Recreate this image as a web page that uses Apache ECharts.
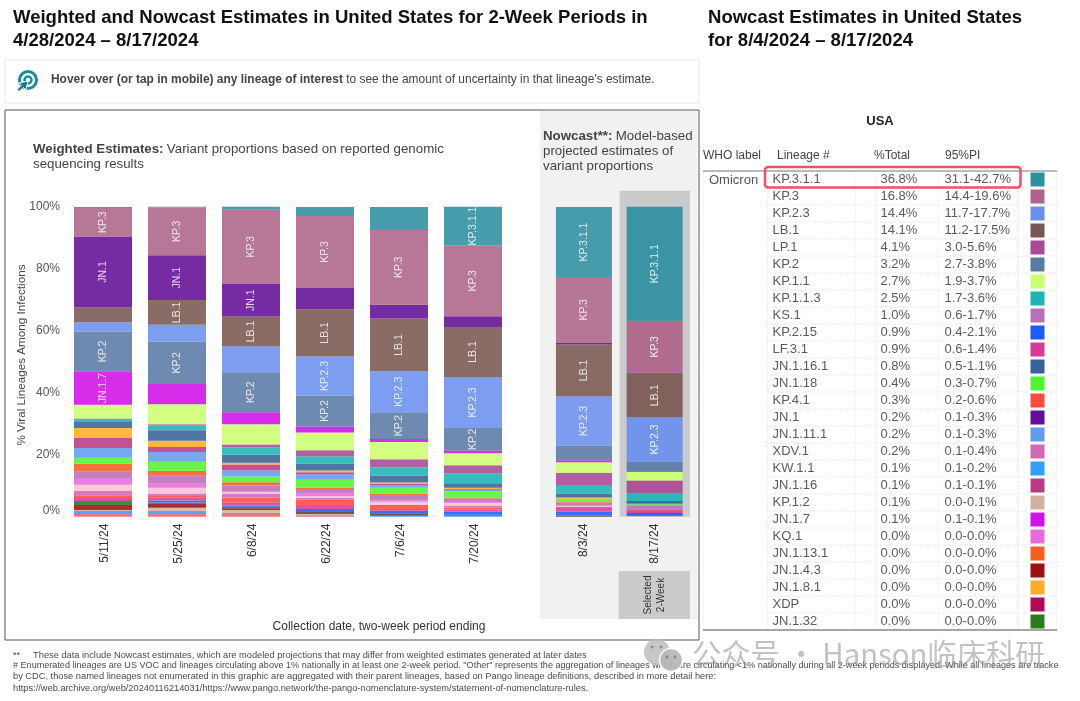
<!DOCTYPE html>
<html><head><meta charset="utf-8">
<style>html,body{margin:0;padding:0;background:#fff}#c{width:1080px;height:701px}</style>
<script src="https://cdn.jsdelivr.net/npm/echarts@6/dist/echarts.min.js"></script>
</head><body><div id="c"></div>
<script>
const weightedPeriods = ['5/11/24','5/25/24','6/8/24','6/22/24','7/6/24','7/20/24'];
const nowcastPeriods = ['8/3/24','8/17/24'];
const yTicks = [0,20,40,60,80,100];

// stack values, period by period (weighted x6, nowcast x2)
const kp311 = [0.3,0.3,1.0,2.9,7.4,12.5,22.6,36.8];
const kp3 = [9.2,15.5,23.9,23.2,24.1,22.8,21.1,16.8];
const jn1 = [22.9,14.4,10.5,6.9,4.5,3.5,0.6,0.2];
const lb1 = [4.8,8.0,9.7,15.2,17.0,16.1,16.8,14.1];
const kp23 = [3.0,5.4,8.3,12.6,13.2,16.5,15.8,14.4];
const kp2 = [12.8,13.7,12.9,10.0,8.6,7.3,4.8,3.2];
const jn17 = [10.8,6.5,3.9,1.9,1.0,0.8,0.6,0.1];
const kp11 = [4.4,6.5,6.5,5.8,5.6,3.9,3.4,2.7];
const lp1 = [0.4,0.4,1.0,1.9,2.6,2.6,4.0,4.1];
const kp113 = [0.5,1.5,2.3,2.3,2.6,3.2,2.7,2.5];
const jn1161 = [2.2,3.4,2.6,2.3,2.3,1.5,1.3,0.8];
const jn181 = [3.2,2.0,0.6,0.6,0.4,0.4,0.4,0];
const jn116 = [3.2,1.6,1.9,0.6,0.4,0.2,0,0.1];
const jn1111 = [3.2,3.2,1.9,1.8,0.9,0.6,0,0.2];
const jn118 = [1.9,2.9,1.9,2.6,1.9,1.9,0.9,0.4];
const jn1131 = [2.6,1.6,1.0,0.4,0.4,0.3,0.3,0];
const ks1 = [2.0,2.6,1.9,1.5,1.8,1.2,1.1,1.0];
const kq1 = [2.2,1.3,0.3,0.8,0.4,0.3,0,0];
const other = [1.9,1.8,0.6,0.5,1.0,0.8,0.3,0];
const xdv1 = [1.5,0.8,1.2,0.6,0,0.7,0,0.2];
const kp41 = [0.9,0.6,1.5,1.7,1.3,0.6,0.4,0.3];
const lf31 = [0.9,0.9,1.1,1.3,0.6,0.6,1.1,0.9];
const kp215 = [0,0.6,0.3,1.0,0.8,1.1,1.3,0.9];
const jn132 = [1.3,0.3,0.5,0,0,0,0,0];
const xdk = [0,0,0,0.6,0.8,0.3,0.4,0.1];
const jn143 = [1.6,1.4,0.5,0,0,0,0,0];
const kp12 = [0.4,1.1,0.9,0.3,0,0,0,0.1];
const kw11 = [0.9,0.9,0.4,0.1,0.3,0.3,0,0.1];
const jn14 = [0.9,0.9,0.9,0.5,0,0,0,0];

// top of stack first
const stackNames = ['KP.3.1.1','KP.3','JN.1','LB.1','KP.2.3','KP.2','JN.1.7','KP.1.1','LP.1','KP.1.1.3','JN.1.16.1','JN.1.8.1','JN.1.16','JN.1.11.1','JN.1.18','JN.1.13.1','KS.1','KQ.1','Other','XDV.1','KP.4.1','LF.3.1','KP.2.15','JN.1.32','XDK','JN.1.4.3','KP.1.2','KW.1.1','JN.1.4'];
const stackValues = [kp311,kp3,jn1,lb1,kp23,kp2,jn17,kp11,lp1,kp113,jn1161,jn181,jn116,jn1111,jn118,jn1131,ks1,kq1,other,xdv1,kp41,lf31,kp215,jn132,xdk,jn143,kp12,kw11,jn14];
const stackColors = ['#2e8fa0','#ad6488','#620f96','#7a5852','#6a90ee','#5a7aa6','#d010e8','#ccff70','#a84a96','#1cb4b4','#386298','#ffac28','#b93a85','#629cef','#50f530','#f55f20','#b870b8','#ea6ade','#fcc0d5','#d268b4','#ff4a3c','#d93a98','#1a5cff','#2c7a1e','#5a4020','#9e1010','#d4b0a0','#30a0ff','#ee6070'];
const labelledPeriods = {'KP.3.1.1':[5,6,7],'KP.3':[0,1,2,3,4,5,6,7],'JN.1':[0,1,2],'LB.1':[1,2,3,4,5,6,7],'KP.2.3':[3,4,5,6,7],'KP.2':[0,1,2,3,4,5],'JN.1.7':[0]};

// table
const tableLineage = ['KP.3.1.1','KP.3','KP.2.3','LB.1','LP.1','KP.2','KP.1.1','KP.1.1.3','KS.1','KP.2.15','LF.3.1','JN.1.16.1','JN.1.18','KP.4.1','JN.1','JN.1.11.1','XDV.1','KW.1.1','JN.1.16','KP.1.2','JN.1.7','KQ.1','JN.1.13.1','JN.1.4.3','JN.1.8.1','XDP','JN.1.32'];
const tableTotal = ['36.8%','16.8%','14.4%','14.1%','4.1%','3.2%','2.7%','2.5%','1.0%','0.9%','0.9%','0.8%','0.4%','0.3%','0.2%','0.2%','0.2%','0.1%','0.1%','0.1%','0.1%','0.0%','0.0%','0.0%','0.0%','0.0%','0.0%'];
const tablePI = ['31.1-42.7%','14.4-19.6%','11.7-17.7%','11.2-17.5%','3.0-5.6%','2.7-3.8%','1.9-3.7%','1.7-3.6%','0.6-1.7%','0.4-2.1%','0.6-1.4%','0.5-1.1%','0.3-0.7%','0.2-0.6%','0.1-0.3%','0.1-0.3%','0.1-0.4%','0.1-0.2%','0.1-0.1%','0.0-0.1%','0.1-0.1%','0.0-0.0%','0.0-0.0%','0.0-0.0%','0.0-0.0%','0.0-0.0%','0.0-0.0%'];
const tableColor = ['#2e8fa0','#ad6488','#6a90ee','#7a5852','#a84a96','#5a7aa6','#ccff70','#1cb4b4','#b870b8','#1a5cff','#d93a98','#386298','#50f530','#ff4a3c','#620f96','#629cef','#d268b4','#30a0ff','#b93a85','#d4b0a0','#d010e8','#ea6ade','#f55f20','#9e1010','#ffac28','#b00a52','#2c7a1e'];

const footerLines = [
 '**     These data include Nowcast estimates, which are modeled projections that may differ from weighted estimates generated at later dates',
 '# Enumerated lineages are US VOC and lineages circulating above 1% nationally in at least one 2-week period. "Other" represents the aggregation of lineages which are circulating <1% nationally during all 2-week periods displayed. While all lineages are tracke',
 'by CDC, those named lineages not enumerated in this graphic are aggregated with their parent lineages, based on Pango lineage definitions, described in more detail here:',
 'https://web.archive.org/web/20240116214031/https://www.pango.network/the-pango-nomenclature-system/statement-of-nomenclature-rules.'
];

const FONT = '"Liberation Sans", Arial, sans-serif';
const NARROW = '"Liberation Sans Narrow", "Liberation Sans", Arial, sans-serif';
const chart = echarts.init(document.getElementById('c'), null, {renderer:'canvas', width:1080, height:701});

function buildSeries(){
  const out = [];
  for (let i = stackNames.length - 1; i >= 0; i--) {
    const name = stackNames[i], vals = stackValues[i], lab = labelledPeriods[name] || [];
    const make = (from, to, axis) => ({
      type:'bar', name, stack:'s'+axis, xAxisIndex:axis, yAxisIndex:axis,
      barWidth: axis === 0 ? 58 : 56,
      itemStyle:{color:stackColors[i], opacity:0.88},
      emphasis:{disabled:true},
      data: vals.slice(from,to).map((v,k)=>{
        const idx = from+k, item = {value:v};
        if (lab.includes(idx)) item.label = {show:true, formatter:name, rotate:90, position:'inside', color:'rgba(255,255,255,0.92)', fontSize:10.5, fontFamily:NARROW};
        if (idx === 7) item.itemStyle = {color:stackColors[i], opacity:0.93};
        return item;
      })
    });
    out.push(make(0,6,0), make(6,8,1));
  }
  return out;
}

const g = [];
const T = (x,y,text,o={}) => g.push({type:'text', x, y, rotation:o.rot||0, z:o.z||20, silent:true,
  style:{text, fill:o.c||'#444', fontSize:o.s||12, fontWeight:o.w||'normal', fontFamily:o.f||FONT, align:o.a||'left', verticalAlign:'middle', opacity:o.op==null?1:o.op, rich:o.rich}});
const R = (x,y,w,h,o={}) => g.push({type:'rect', z:o.z==null?-5:o.z, silent:true, shape:{x,y,width:w,height:h,r:o.r||0},
  style:{fill:o.fill||'none', stroke:o.stroke||null, lineWidth:o.lw||1, lineDash:o.dash||null}});
const L = (x1,y1,x2,y2,c,o={}) => g.push({type:'line', z:o.z||1, silent:true, shape:{x1,y1,x2,y2}, style:{stroke:c, lineWidth:o.lw||1, lineDash:o.dash||null}});

// titles
T(13,18,'Weighted and Nowcast Estimates in United States for 2-Week Periods in',{s:18.55,w:'bold',c:'#111'});
T(13,41,'4/28/2024 – 8/17/2024',{s:18.55,w:'bold',c:'#111'});
T(708,18,'Nowcast Estimates in United States',{s:18.55,w:'bold',c:'#111'});
T(708,41,'for 8/4/2024 – 8/17/2024',{s:18.55,w:'bold',c:'#111'});

// hover note
R(5,60,694,43,{stroke:'#efefef',lw:1.5,fill:'#fff'});
g.push({type:'circle',z:20,silent:true,shape:{cx:28,cy:80,r:8.5},style:{fill:'none',stroke:'#1b8a9c',lineWidth:3}});
g.push({type:'circle',z:20,silent:true,shape:{cx:28,cy:80,r:3.5},style:{fill:'none',stroke:'#1b8a9c',lineWidth:2.5}});
g.push({type:'polygon',z:21,silent:true,shape:{points:[[28,81],[26,90],[23.5,87.5],[19,91.5],[17,89.5],[21.5,85],[19,83]]},style:{fill:'#17788a',stroke:'#fff',lineWidth:1}});
T(51,80,'{b|Hover over (or tap in mobile) any lineage of interest} {n|to see the amount of uncertainty in that lineage\'s estimate.}',
  {rich:{b:{fontWeight:'bold',fontSize:11.95,color:'#333',fontFamily:FONT},n:{fontSize:11.95,color:'#444',fontFamily:FONT}}});

// panels
R(5,110,694,530,{stroke:'#555',fill:'#fff',z:-9});
R(540,111,157.5,508,{fill:'#f1f1f1',z:-8});
R(619.7,190.7,70.3,326,{fill:'#cbcbcb',z:-7});
R(618.7,571,71.3,48,{fill:'#cbcbcb',z:-7});
T(654.5,595,'Selected\n2-Week',{rot:Math.PI/2,s:10,a:'center',c:'#333'});
g[g.length-1].style.lineHeight = 13;

const rich1 = {b:{fontWeight:'bold',fontSize:13.3,color:'#333',fontFamily:FONT,lineHeight:15},n:{fontSize:13.3,color:'#555',fontFamily:FONT,lineHeight:15}};
T(33,149,'{b|Weighted Estimates:} {n|Variant proportions based on reported genomic}',{rich:rich1});
T(33,164.5,'{n|sequencing results}',{rich:rich1});
const rich2 = {b:{fontWeight:'bold',fontSize:13.3,color:'#111',fontFamily:FONT},n:{fontSize:13.3,color:'#444',fontFamily:FONT}};
T(543,136,'{b|Nowcast**:} {n|Model-based}',{rich:rich2});
T(543,151,'projected estimates of',{s:13.3,c:'#444'});
T(543,166.5,'variant proportions',{s:13.3,c:'#444'});
T(379,626.5,'Collection date, two-week period ending',{s:12,a:'center',c:'#333'});
T(22,355,'% Viral Lineages Among Infections',{rot:Math.PI/2,s:11.7,a:'center',c:'#444'});

// table
const rowY = i => 179.5 + 17*i;
T(880,121,'USA',{s:13,w:'bold',a:'center',c:'#222'});
T(703,156,'WHO label',{s:12});
T(777,156,'Lineage #',{s:12});
T(874,156,'%Total',{s:12});
T(945,156,'95%PI',{s:12});
T(709,180,'Omicron',{s:13,c:'#555'});
const dot = [1,1.5];
[767.5,855,875.5,938,1018,1056.5].forEach(x=>L(x,171,x,630,x===1018?'#cfcfcf':'#e2e2e2',{dash:dot}));
L(703.5,171,703.5,630,'#e8e8e8',{dash:dot});
tableLineage.forEach((n,i)=>{
  const y = rowY(i);
  if (i>0) L(767.5,y-8.5,1056.5,y-8.5,'#dcdcdc',{dash:dot});
  T(772.5,y,n,{s:13,c:'#5a5a5a'});
  T(880.5,y,tableTotal[i],{s:13,c:'#5a5a5a'});
  T(944.5,y,tablePI[i],{s:13,c:'#5a5a5a'});
  R(1030.5,y-7,14,14,{fill:tableColor[i],z:5});
});
L(703,171,1057,171,'#777',{lw:1,z:6});
L(703,630,1057,630,'#888',{lw:1.5,z:6});
R(765,167,255.5,20.5,{stroke:'#f0506a',lw:2.5,r:3,z:10});

// footer
const footerY = [655,665.7,676.8,688], footerSize = [9.27,9.07,9.27,9.27];
footerY.forEach((y,i)=>T(13,y,footerLines[i],{s:footerSize[i],c:'#4a4a4a'}));

// watermark
g.push({type:'circle',z:30,silent:true,shape:{cx:657,cy:652,r:13},style:{fill:'#bdbdbd',opacity:0.85}});
g.push({type:'circle',z:31,silent:true,shape:{cx:671,cy:660,r:11.5},style:{fill:'#b5b5b5',stroke:'#fff',lineWidth:1.5,opacity:0.92}});
[[652,647],[661,647],[667,657],[675,657]].forEach(p=>g.push({type:'circle',z:32,silent:true,shape:{cx:p[0],cy:p[1],r:1.5},style:{fill:'#777',opacity:0.7}}));
T(692,654,'公众号 · Hanson临床科研',{s:29.3,c:'#8f8f8f',op:0.55,f:'"Noto Sans CJK SC", sans-serif',z:32});

chart.setOption({
  animation:false,
  backgroundColor:'#fff',
  textStyle:{fontFamily:FONT},
  grid:[
    {left:66, right:1080-510, top:206.7, bottom:701-516.7},
    {left:548.6, right:1080-690, top:206.7, bottom:701-516.7}
  ],
  xAxis:[
    {type:'category',gridIndex:0,data:weightedPeriods,axisLine:{show:false},axisTick:{show:true,length:3,lineStyle:{color:'#eee'}},
     axisLabel:{rotate:90,fontSize:12,color:'#333',margin:7,fontFamily:FONT,verticalAlign:'top',lineHeight:4}},
    {type:'category',gridIndex:1,data:nowcastPeriods,axisLine:{show:false},axisTick:{show:false},
     axisLabel:{rotate:90,fontSize:12,color:'#333',margin:7,fontFamily:FONT}}
  ],
  yAxis:[
    {type:'value',gridIndex:0,min:yTicks[0],max:yTicks[5],interval:yTicks[1]-yTicks[0],axisLine:{show:false},axisTick:{show:false},splitLine:{show:false},
     axisLabel:{formatter:'{value}%',fontSize:12,color:'#555',margin:6,fontFamily:FONT,verticalAlignMinLabel:'bottom'}},
    {type:'value',gridIndex:1,min:yTicks[0],max:yTicks[5],show:false}
  ],
  series:buildSeries(),
  graphic:{elements:g}
});
</script></body></html>
